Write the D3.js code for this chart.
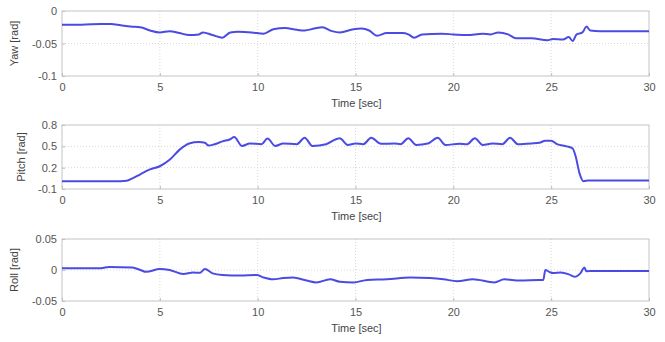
<!DOCTYPE html>
<html>
<head>
<meta charset="utf-8">
<script src="https://cdn.jsdelivr.net/npm/d3@7"></script>
<style>
  body { margin: 0; background: #fff; }
  svg { display: block; font-family: "Liberation Sans", Arial, sans-serif; }
  .tick text { fill: #555; font-size: 11px; }
</style>
</head>
<body>
<svg id="chart" width="665" height="342"></svg>
<script>
// time ticks shared by all panels
const timeTicks = [0, 5, 10, 15, 20, 25, 30];

// yaw [rad]
const yawT = [0, 1, 2, 2.5, 3, 3.5, 4, 4.5, 5, 5.5, 6, 6.5, 7, 7.2, 7.7, 8.2, 8.6, 9, 9.7, 10.3, 10.8, 11.4, 12, 12.4, 12.9, 13.3, 13.8, 14.2, 14.9, 15.3, 15.7, 16.1, 16.6, 17.4, 17.7, 18, 18.4, 19.4, 20, 20.7, 21.5, 21.9, 22.3, 22.8, 23.2, 24, 24.8, 25.1, 25.6, 25.9, 26.1, 26.3, 26.6, 26.8, 27, 27.5, 30];
const yawV = [-0.021, -0.021, -0.020, -0.020, -0.022, -0.024, -0.025, -0.030, -0.033, -0.031, -0.034, -0.037, -0.036, -0.033, -0.037, -0.041, -0.033, -0.032, -0.033, -0.035, -0.028, -0.026, -0.029, -0.030, -0.027, -0.025, -0.031, -0.033, -0.028, -0.027, -0.030, -0.038, -0.034, -0.034, -0.036, -0.041, -0.036, -0.035, -0.036, -0.037, -0.035, -0.036, -0.033, -0.036, -0.042, -0.042, -0.045, -0.043, -0.044, -0.040, -0.046, -0.036, -0.033, -0.024, -0.030, -0.031, -0.031];
const yawTicks = [-0.1, -0.05, 0];

// pitch [rad]
const pitchT = [0, 1, 2, 3, 3.3, 3.6, 4, 4.5, 5, 5.5, 6, 6.5, 7, 7.3, 7.5, 7.8, 8.2, 8.6, 8.8, 9.2, 9.6, 10.2, 10.5, 10.9, 11.3, 12, 12.4, 12.8, 13.5, 14, 14.2, 14.6, 15, 15.4, 15.8, 16.3, 17, 17.3, 17.7, 18.1, 18.7, 19.2, 19.6, 20.3, 20.7, 21.1, 21.5, 22, 22.5, 22.9, 23.3, 24, 24.4, 24.7, 25, 25.3, 25.8, 26.1, 26.25, 26.45, 26.65, 26.9, 30];
const pitchV = [0.01, 0.01, 0.01, 0.01, 0.015, 0.05, 0.107, 0.175, 0.22, 0.31, 0.45, 0.54, 0.56, 0.55, 0.51, 0.53, 0.57, 0.60, 0.63, 0.505, 0.54, 0.53, 0.61, 0.505, 0.54, 0.53, 0.62, 0.505, 0.53, 0.60, 0.613, 0.52, 0.54, 0.53, 0.62, 0.535, 0.54, 0.53, 0.613, 0.52, 0.54, 0.62, 0.52, 0.535, 0.53, 0.613, 0.52, 0.54, 0.53, 0.62, 0.53, 0.54, 0.55, 0.58, 0.58, 0.53, 0.50, 0.47, 0.36, 0.12, 0.01, 0.02, 0.02];
const pitchTicks = [-0.1, 0.2, 0.5, 0.8];

// roll [rad]
const rollT = [0, 2, 2.4, 3.6, 4, 4.3, 5, 5.5, 6.2, 6.7, 7.05, 7.3, 7.7, 8.2, 9.1, 9.95, 10.3, 10.8, 11.3, 11.8, 12.5, 13, 13.7, 14.2, 14.9, 15.6, 16.6, 17.8, 18.8, 19.5, 20.2, 21, 22.1, 22.6, 23.4, 24.4, 24.6, 24.7, 24.9, 25.1, 25.5, 25.9, 26.2, 26.5, 26.7, 26.8, 27.2, 30];
const rollV = [0.003, 0.003, 0.005, 0.004, 0, -0.003, 0.0016, 0, -0.0065, -0.004, -0.0045, 0.0016, -0.0054, -0.008, -0.009, -0.008, -0.012, -0.015, -0.013, -0.012, -0.017, -0.020, -0.015, -0.019, -0.020, -0.016, -0.015, -0.012, -0.013, -0.015, -0.018, -0.015, -0.020, -0.015, -0.017, -0.016, -0.016, 0.000, -0.003, -0.005, -0.004, -0.007, -0.011, -0.005, 0.004, -0.002, -0.0016, -0.0016];
const rollTicks = [-0.05, 0, 0.05];

const panels = [
  { label: 'Yaw [rad]', t: yawT, v: yawV, ticks: yawTicks, domain: [-0.1, 0], top: 11, bottom: 76, labelX: 18 },
  { label: 'Pitch [rad]', t: pitchT, v: pitchV, ticks: pitchTicks, domain: [-0.1, 0.8], top: 125, bottom: 189, labelX: 25 },
  { label: 'Roll [rad]', t: rollT, v: rollV, ticks: rollTicks, domain: [-0.05, 0.05], top: 239, bottom: 301, labelX: 18 }
];

const svg = d3.select('#chart');
const x = d3.scaleLinear().domain([0, 30]).range([62, 649]);

panels.forEach(p => {
  const y = d3.scaleLinear().domain(p.domain).range([p.bottom, p.top]);
  const g = svg.append('g');

  // faint dotted grid
  g.selectAll('line.gx').data(timeTicks.slice(1, -1)).enter().append('line')
    .attr('x1', d => x(d)).attr('x2', d => x(d))
    .attr('y1', p.top).attr('y2', p.bottom)
    .attr('stroke', '#d8d8d8').attr('stroke-dasharray', '1,2');
  g.selectAll('line.gy').data(p.ticks.slice(1, -1)).enter().append('line')
    .attr('x1', x(0)).attr('x2', x(30))
    .attr('y1', d => y(d)).attr('y2', d => y(d))
    .attr('stroke', '#d8d8d8').attr('stroke-dasharray', '1,2');

  const xAxis = g.append('g')
    .attr('transform', `translate(0,${p.bottom})`)
    .call(d3.axisBottom(x).tickValues(timeTicks).tickSize(-3).tickPadding(7).tickFormat(d3.format('d')));
  const yAxis = g.append('g')
    .attr('transform', `translate(${x(0)},0)`)
    .call(d3.axisLeft(y).tickValues(p.ticks).tickSize(-3).tickPadding(5).tickFormat(d => String(d)));
  [xAxis, yAxis].forEach(a => {
    a.select('.domain').remove();
    a.selectAll('.tick line').attr('stroke', '#bbb');
  });

  g.append('rect')
    .attr('x', x(0)).attr('y', p.top)
    .attr('width', x(30) - x(0)).attr('height', p.bottom - p.top)
    .attr('fill', 'none').attr('stroke', '#c4c4c4');

  const line = d3.line().curve(d3.curveMonotoneX).x(d => x(d[0])).y(d => y(d[1]));
  g.append('path')
    .datum(p.t.map((t, i) => [t, p.v[i]]))
    .attr('d', line)
    .attr('fill', 'none')
    .attr('stroke', '#4b4be4')
    .attr('stroke-width', 2)
    .attr('stroke-linejoin', 'round');

  g.append('text')
    .attr('x', (x(0) + x(30)) / 2 + 1).attr('y', p.bottom + 31)
    .attr('text-anchor', 'middle')
    .attr('fill', '#444').attr('font-size', 11)
    .text('Time [sec]');

  g.append('text')
    .attr('transform', `translate(${p.labelX},${(p.top + p.bottom) / 2}) rotate(-90)`)
    .attr('text-anchor', 'middle')
    .attr('fill', '#444').attr('font-size', 11)
    .text(p.label);
});
</script>
</body>
</html>
